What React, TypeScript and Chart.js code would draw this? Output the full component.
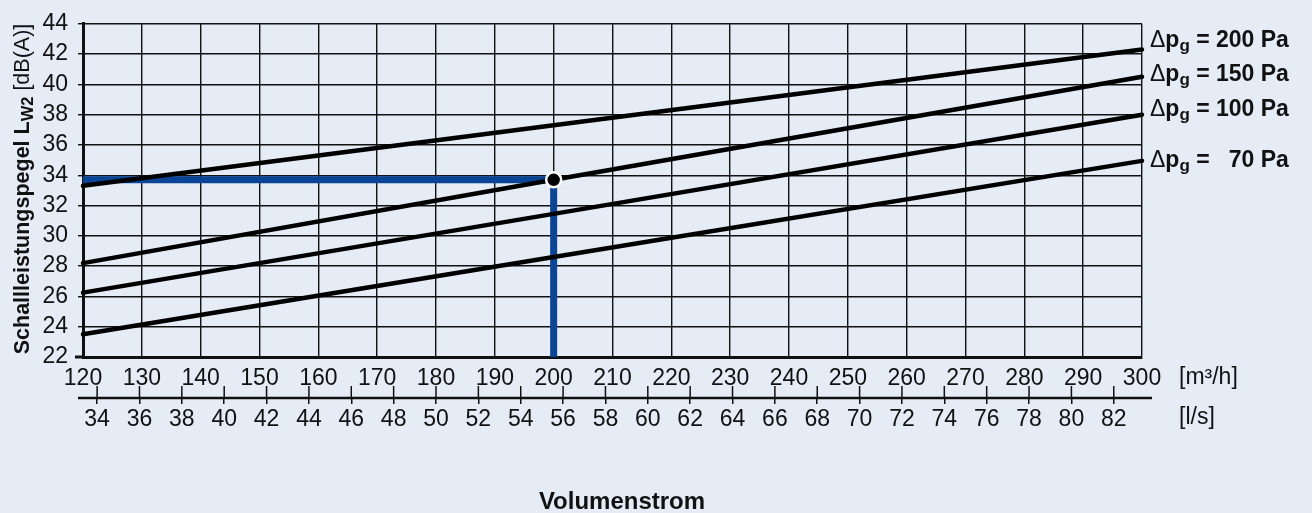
import React, { useEffect, useRef } from 'react';
import { Chart, registerables } from 'chart.js';

Chart.register(...registerables);

const FONT = '"Liberation Sans", Arial, Helvetica, sans-serif';
const BG = '#e5ecf5';
const INK = '#111111';
const BLUE = '#0a4496';

// ---- data ----
const flowM3h = [120, 200, 300];
const lw200Pa = [33.3, 37.3, 42.3];
const lw150Pa = [28.2, 33.7, 40.5];
const lw100Pa = [26.25, 31.45, 38.0];
const lw70Pa = [23.5, 28.6, 34.95];
const pressureLabels = ['200', '150', '100', '70'];
const flowTicksLs = [34, 36, 38, 40, 42, 44, 46, 48, 50, 52, 54, 56, 58, 60, 62, 64, 66, 68, 70, 72, 74, 76, 78, 80, 82];
const opFlow = 200;
const opLevel = 33.7;
const yMin = 22;
const yMax = 44;
const xMin = 120;
const xMax = 300;
const M3H_PER_LS = 3.6;

type Part = { t: string; font: string; dy?: number };

function drawParts(ctx: CanvasRenderingContext2D, parts: Part[], x: number, y: number) {
  let cx = x;
  for (const p of parts) {
    ctx.font = p.font;
    ctx.fillText(p.t, cx, y + (p.dy || 0));
    cx += ctx.measureText(p.t).width;
  }
  return cx;
}
function measureParts(ctx: CanvasRenderingContext2D, parts: Part[]) {
  let w = 0;
  for (const p of parts) {
    ctx.font = p.font;
    w += ctx.measureText(p.t).width;
  }
  return w;
}

const decorPlugin = {
  id: 'decor',
  beforeDraw(chart: any) {
    const { ctx, width, height } = chart;
    ctx.save();
    ctx.fillStyle = BG;
    ctx.fillRect(0, 0, width, height);
    ctx.restore();
  },
  afterDraw(chart: any) {
    const ctx: CanvasRenderingContext2D = chart.ctx;
    const xs = chart.scales.x;
    const ys = chart.scales.y;
    const ls = chart.scales.xls;
    ctx.save();
    ctx.fillStyle = INK;
    ctx.strokeStyle = INK;

    // extend m3/h axis line to the left
    ctx.lineWidth = 3;
    ctx.beginPath();
    ctx.moveTo(xs.left - 8, xs.top);
    ctx.lineTo(xs.left, xs.top);
    ctx.stroke();

    // l/s axis line and upward tick parts
    const lineY = ls.top;
    ctx.lineWidth = 2.5;
    ctx.beginPath();
    ctx.moveTo(ls.left - 5, lineY);
    ctx.lineTo(ls.right + 10, lineY);
    ctx.stroke();
    ctx.lineWidth = 1.5;
    for (const v of flowTicksLs) {
      const px = ls.getPixelForValue(v);
      ctx.beginPath();
      ctx.moveTo(px, lineY - 12);
      ctx.lineTo(px, lineY);
      ctx.stroke();
    }

    // unit labels
    ctx.font = `23px ${FONT}`;
    ctx.textBaseline = 'middle';
    ctx.textAlign = 'left';
    ctx.fillText('[m³/h]', xs.right + 37, xs.top + 21);
    ctx.fillText('[l/s]', xs.right + 37, ls.top + 20);

    // x title
    ctx.font = `bold 24px ${FONT}`;
    ctx.textAlign = 'center';
    ctx.fillText('Volumenstrom', 622, 502);

    // right labels
    ctx.textAlign = 'left';
    ctx.textBaseline = 'alphabetic';
    const ends = [lw200Pa, lw150Pa, lw100Pa, lw70Pa].map((a) => a[a.length - 1]);
    const nudges = [-2.4, 3.7, 1.6, 6.4];
    const prefix: Part[] = [
      { t: 'Δ', font: `23px ${FONT}` },
      { t: 'p', font: `bold 23px ${FONT}` },
      { t: 'g', font: `bold 17px ${FONT}`, dy: 4 },
      { t: ' = ', font: `bold 23px ${FONT}` },
    ];
    ctx.font = `bold 23px ${FONT}`;
    const colW = ctx.measureText('200').width;
    pressureLabels.forEach((lab, i) => {
      const by = ys.getPixelForValue(ends[i]) + nudges[i];
      const x0 = xs.right + 8;
      const afterPrefix = drawParts(ctx, prefix, x0, by);
      ctx.font = `bold 23px ${FONT}`;
      const vw = ctx.measureText(lab).width;
      ctx.fillText(lab, afterPrefix + colW - vw, by);
      ctx.fillText(' Pa', afterPrefix + colW, by);
    });

    // y title (rotated)
    const yParts: Part[] = [
      { t: 'Schallleistungspegel L', font: `bold 21.5px ${FONT}` },
      { t: 'W2', font: `bold 16.5px ${FONT}`, dy: 4 },
      { t: ' [dB(A)]', font: `21.5px ${FONT}` },
    ];
    const total = measureParts(ctx, yParts);
    ctx.translate(29, 189);
    ctx.rotate(-Math.PI / 2);
    drawParts(ctx, yParts, -total / 2, 0);
    ctx.restore();
  },
};

export default function App() {
  const ref = useRef<HTMLCanvasElement | null>(null);
  useEffect(() => {
    document.body.style.margin = '0';
    document.body.style.background = BG;
    const canvas = ref.current;
    if (!canvas) return;
    const lineDs = (label: string, ys: number[]) => ({
      label,
      data: flowM3h.map((x, i) => ({ x, y: ys[i] })),
      borderColor: '#000',
      borderWidth: 4.5,
      pointRadius: 0,
      borderCapStyle: 'round',
      clip: false,
      order: 1,
      xAxisID: 'x',
      yAxisID: 'y',
    });
    const chart = new Chart(canvas, {
      type: 'line',
      data: {
        datasets: [
          {
            label: 'Betriebspunkt',
            data: [{ x: opFlow, y: opLevel }],
            showLine: false,
            pointRadius: 7.5,
            pointBackgroundColor: '#000',
            pointBorderColor: '#fff',
            pointBorderWidth: 2.5,
            clip: false,
            order: 0,
            xAxisID: 'x',
            yAxisID: 'y',
          } as any,
          lineDs('200 Pa', lw200Pa) as any,
          lineDs('150 Pa', lw150Pa) as any,
          lineDs('100 Pa', lw100Pa) as any,
          lineDs('70 Pa', lw70Pa) as any,
          {
            label: 'Ablesung',
            data: [
              { x: flowM3h[0], y: opLevel },
              { x: opFlow, y: opLevel },
              { x: opFlow, y: yMin },
            ],
            borderColor: BLUE,
            borderWidth: 7,
            pointRadius: 0,
            borderJoinStyle: 'miter',
            order: 2,
            xAxisID: 'x',
            yAxisID: 'y',
          } as any,
        ],
      },
      options: {
        responsive: false,
        animation: false,
        events: [],
        layout: { padding: { left: 0, right: 170, top: 20, bottom: 75 } },
        plugins: { legend: { display: false }, tooltip: { enabled: false }, title: { display: false } },
        scales: {
          x: {
            type: 'linear',
            position: 'bottom',
            min: xMin,
            max: xMax,
            ticks: { stepSize: 10, font: { family: FONT, size: 23 }, color: INK, padding: 8, maxRotation: 0, autoSkip: false },
            grid: { color: INK, lineWidth: 1.4, drawTicks: false },
            border: { color: INK, width: 3 },
            afterFit: (s: any) => {
              s.height = 41;
            },
          },
          xls: {
            type: 'linear',
            axis: 'x',
            position: 'bottom',
            min: xMin / M3H_PER_LS,
            max: xMax / M3H_PER_LS,
            afterBuildTicks: (s: any) => {
              s.ticks = flowTicksLs.map((v) => ({ value: v }));
            },
            ticks: { font: { family: FONT, size: 23 }, color: INK, padding: 2, maxRotation: 0, autoSkip: false },
            grid: { drawOnChartArea: false, color: INK, lineWidth: 1.5, tickLength: 6 },
            border: { display: false },
            afterFit: (s: any) => {
              s.height = 40;
            },
          },
          y: {
            type: 'linear',
            position: 'left',
            min: yMin,
            max: yMax,
            ticks: { stepSize: 2, font: { family: FONT, size: 23 }, color: INK, padding: 10, autoSkip: false },
            grid: { color: INK, lineWidth: 1.4, tickLength: 5 },
            border: { color: INK, width: 3 },
            afterFit: (s: any) => {
              s.width = 83;
            },
          },
        },
      } as any,
      plugins: [decorPlugin as any],
    });
    return () => chart.destroy();
  }, []);
  return (
    <div style={{ width: 1312, height: 513, background: BG }}>
      <canvas ref={ref} width={1312} height={513} style={{ display: 'block' }} />
    </div>
  );
}
